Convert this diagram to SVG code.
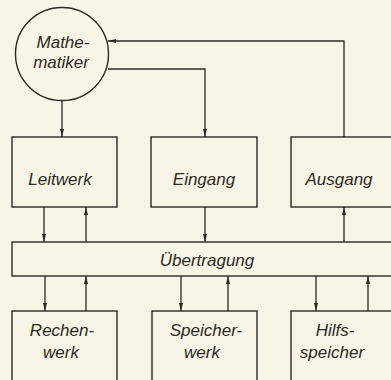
<svg xmlns="http://www.w3.org/2000/svg" width="391" height="380" viewBox="0 0 391 380">
<defs>
<marker id="arr" viewBox="0 0 8 4" refX="8" refY="2" markerWidth="8" markerHeight="4" markerUnits="userSpaceOnUse" orient="auto">
<path d="M0,0 L8,2 L0,4 Z" fill="#2b2a22"/>
</marker>
<style>
.box{fill:none;stroke:#2b2a22;stroke-width:1.4}
.ln{fill:none;stroke:#2b2a22;stroke-width:1.3}
.arr{marker-end:url(#arr)}
text{font-family:"Liberation Sans",Arial,sans-serif;font-style:italic;font-size:17px;fill:#2b2a22;text-anchor:middle}
</style>
</defs>
<rect width="391" height="380" fill="#f8f4e6"/>
<g id="connectors">
<path class="ln arr" d="M62,100.5 V137"/>
<path class="ln arr" d="M344,137 V41 H108"/>
<path class="ln arr" d="M108,69 H205 V137"/>
<path class="ln arr" d="M44,207 V242"/>
<path class="ln arr" d="M86,242 V207"/>
<path class="ln arr" d="M205,207 V242"/>
<path class="ln arr" d="M344,242 V207"/>
<path class="ln arr" d="M45,276 V311"/>
<path class="ln arr" d="M86,311 V276"/>
<path class="ln arr" d="M181,276 V311"/>
<path class="ln arr" d="M228,311 V276"/>
<path class="ln arr" d="M316,276 V311"/>
<path class="ln arr" d="M368,311 V276"/>
</g>
<g id="mathematiker">
<circle class="box" cx="62" cy="54" r="46.5"/>
<text x="63" y="48">Mathe-</text>
<text x="61" y="68">matiker</text>
</g>
<g id="leitwerk">
<rect class="box" x="12" y="137" width="105" height="70"/>
<text x="60" y="185">Leitwerk</text>
</g>
<g id="eingang">
<rect class="box" x="151" y="137" width="106" height="70"/>
<text x="204" y="185">Eingang</text>
</g>
<g id="ausgang">
<rect class="box" x="291" y="137" width="110" height="70"/>
<text x="339" y="185">Ausgang</text>
</g>
<g id="uebertragung">
<rect class="box" x="12" y="242" width="390" height="34"/>
<text x="207" y="266">Übertragung</text>
</g>
<g id="rechenwerk">
<rect class="box" x="12" y="311" width="105" height="80"/>
<text x="62" y="336">Rechen-</text>
<text x="61" y="358">werk</text>
</g>
<g id="speicherwerk">
<rect class="box" x="152" y="311" width="105" height="80"/>
<text x="206" y="336">Speicher-</text>
<text x="202" y="358">werk</text>
</g>
<g id="hilfsspeicher">
<rect class="box" x="291" y="311" width="110" height="80"/>
<text x="335" y="336">Hilfs-</text>
<text x="332" y="358">speicher</text>
</g>
</svg>
